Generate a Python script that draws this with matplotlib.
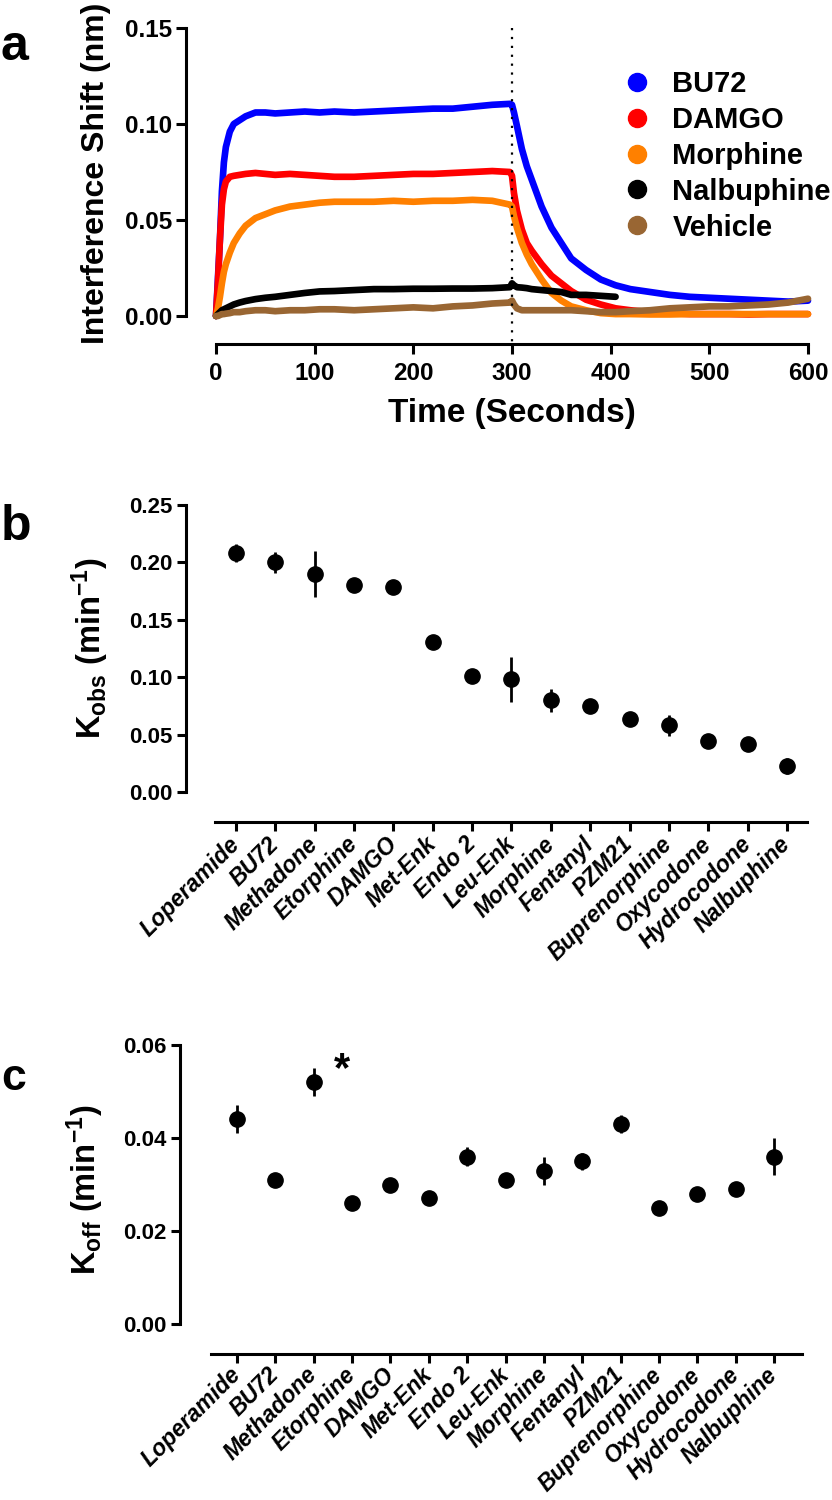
import matplotlib
matplotlib.use('Agg')
import matplotlib.pyplot as plt
from matplotlib.lines import Line2D

plt.rcParams['font.family'] = ['Liberation Sans', 'DejaVu Sans']
plt.rcParams['font.weight'] = 'bold'
plt.rcParams['mathtext.fontset'] = 'custom'
plt.rcParams['mathtext.rm'] = 'Liberation Sans:bold'
plt.rcParams['mathtext.bf'] = 'Liberation Sans:bold'
plt.rcParams['mathtext.it'] = 'Liberation Sans:bold:italic'
plt.rcParams['axes.linewidth'] = 2.2

# ---------------- data: panel a ----------------
time_s = [0, 2, 4, 6, 8, 10, 14, 18, 24, 30, 40, 50, 60, 75, 90, 105, 120, 140,
          160, 180, 200, 220, 240, 260, 280, 298, 300, 302, 305, 310, 315, 320,
          330, 340, 350, 360, 375, 390, 405, 420, 440, 460, 480, 500, 520, 540,
          560, 580, 600]

bu72 = [0.0, 0.020, 0.040, 0.065, 0.080, 0.088, 0.096, 0.100, 0.102, 0.104,
        0.106, 0.106, 0.1055, 0.106, 0.1065, 0.106, 0.1065, 0.106, 0.1065,
        0.107, 0.1075, 0.108, 0.108, 0.109, 0.110, 0.1105, 0.110, 0.106,
        0.099, 0.087, 0.078, 0.071, 0.057, 0.046, 0.038, 0.030, 0.024, 0.019,
        0.016, 0.014, 0.0125, 0.011, 0.010, 0.0095, 0.009, 0.0085, 0.008,
        0.0075, 0.008]
damgo = [0.0, 0.018, 0.040, 0.058, 0.066, 0.070, 0.0725, 0.073, 0.0735, 0.074,
         0.0745, 0.074, 0.0735, 0.074, 0.0735, 0.073, 0.0725, 0.0725, 0.073,
         0.0735, 0.074, 0.074, 0.0745, 0.075, 0.0755, 0.075, 0.073, 0.064,
         0.055, 0.045, 0.038, 0.034, 0.027, 0.021, 0.017, 0.013, 0.0085,
         0.006, 0.004, 0.003, 0.002, 0.0015, 0.001, 0.001, 0.001, 0.0008,
         0.001, 0.001, 0.001]
morphine = [0.0, 0.004, 0.010, 0.017, 0.023, 0.027, 0.033, 0.038, 0.043, 0.047,
            0.051, 0.053, 0.055, 0.057, 0.058, 0.059, 0.0595, 0.0595, 0.0595,
            0.060, 0.0595, 0.060, 0.060, 0.0605, 0.060, 0.058, 0.057, 0.052,
            0.046, 0.038, 0.032, 0.027, 0.019, 0.012, 0.008, 0.005, 0.003,
            0.0015, 0.001, 0.001, 0.0008, 0.0008, 0.001, 0.001, 0.001, 0.001,
            0.001, 0.001, 0.001]
nalbuphine = [0.0, 0.001, 0.002, 0.003, 0.0035, 0.004, 0.005, 0.006, 0.007,
              0.0078, 0.0088, 0.0095, 0.010, 0.011, 0.012, 0.0128, 0.013,
              0.0135, 0.014, 0.014, 0.0142, 0.0142, 0.0143, 0.0143, 0.0145,
              0.015, 0.017, 0.016, 0.015, 0.0148, 0.0145, 0.014, 0.0135, 0.013,
              0.0125, 0.011, 0.011, 0.0105, 0.010]
vehicle = [0.0, 0.0, 0.0005, 0.001, 0.001, 0.0012, 0.0015, 0.002, 0.002, 0.0025,
           0.003, 0.003, 0.0025, 0.003, 0.003, 0.0035, 0.0035, 0.003, 0.0035,
           0.004, 0.0045, 0.004, 0.005, 0.0055, 0.0065, 0.007, 0.008, 0.006,
           0.004, 0.003, 0.003, 0.003, 0.003, 0.003, 0.003, 0.003, 0.0025,
           0.002, 0.002, 0.0025, 0.003, 0.004, 0.0045, 0.005, 0.005, 0.0055,
           0.006, 0.007, 0.009]

series_names = ['BU72', 'DAMGO', 'Morphine', 'Nalbuphine', 'Vehicle']
series_vals = [bu72, damgo, morphine, nalbuphine, vehicle]
series_colors = ['#0000FF', '#FF0000', '#FF8000', '#000000', '#996633']

a_yticks = [0.00, 0.05, 0.10, 0.15]
a_xticks = [0, 100, 200, 300, 400, 500, 600]
washout_time = 300

# ---------------- data: panels b, c ----------------
compounds = ['Loperamide', 'BU72', 'Methadone', 'Etorphine', 'DAMGO', 'Met-Enk',
             'Endo 2', 'Leu-Enk', 'Morphine', 'Fentanyl', 'PZM21',
             'Buprenorphine', 'Oxycodone', 'Hydrocodone', 'Nalbuphine']
kobs = [0.208, 0.200, 0.190, 0.180, 0.179, 0.131, 0.101, 0.098, 0.080, 0.075,
        0.064, 0.058, 0.044, 0.042, 0.023]
kobs_err = [0.008, 0.009, 0.020, 0.002, 0.005, 0.002, 0.002, 0.020, 0.010,
            0.002, 0.002, 0.009, 0.002, 0.002, 0.007]
koff = [0.044, 0.031, 0.052, 0.026, 0.030, 0.027, 0.036, 0.031, 0.033, 0.035,
        0.043, 0.025, 0.028, 0.029, 0.036]
koff_err = [0.003, 0.001, 0.003, 0.001, 0.001, 0.001, 0.002, 0.001, 0.003,
            0.0018, 0.002, 0.001, 0.001, 0.001, 0.004]
b_yticks = [0.00, 0.05, 0.10, 0.15, 0.20, 0.25]
c_yticks = [0.00, 0.02, 0.04, 0.06]

# ---------------- figure ----------------
W, H = 832, 1500
fig = plt.figure(figsize=(W / 100, H / 100), dpi=100)


def add_axes(l, r, t, b):
    return fig.add_axes([l / W, 1 - b / H, (r - l) / W, (b - t) / H])


def px2pt(p):
    return p * 72.0 / 100.0


def style(ax, left_out, bottom_out, ybounds, xbounds=None):
    ax.spines['top'].set_visible(False)
    ax.spines['right'].set_visible(False)
    ax.spines['left'].set_position(('outward', px2pt(left_out)))
    ax.spines['bottom'].set_position(('outward', px2pt(bottom_out)))
    ax.spines['left'].set_bounds(*ybounds)
    if xbounds is not None:
        ax.spines['bottom'].set_bounds(*xbounds)
    ax.patch.set_alpha(0)


# ---- panel a ----
axa = add_axes(216, 808, 28, 316)
for name, vals, col in zip(series_names, series_vals, series_colors):
    axa.plot(time_s[:len(vals)], vals, color=col, lw=4.8, clip_on=False,
             solid_capstyle='round', solid_joinstyle='round')
axa.plot([washout_time, washout_time], [0.15, -0.0152], color='black', lw=1.6,
         ls=(0, (1, 3)), clip_on=False)
axa.set_xlim(0, 600)
axa.set_ylim(0, 0.15)
style(axa, 30, 28, (0, 0.15), (0, 600))
axa.set_yticks(a_yticks)
axa.set_yticklabels(['%.2f' % v for v in a_yticks])
axa.set_xticks(a_xticks)
axa.tick_params(axis='both', width=2.2, length=7, labelsize=17.5)
axa.tick_params(axis='y', pad=3)
axa.tick_params(axis='x', pad=6)
axa.set_xlabel('Time (Seconds)', fontsize=24, fontweight='bold', labelpad=9)
fig.text(96 / W, 1 - 173 / H, 'Interference Shift (nm)', rotation=90,
         ha='center', va='center', fontsize=23, fontweight='bold')

handles = [Line2D([], [], marker='o', ls='', color=c, markersize=13)
           for c in series_colors]
axa.legend(handles, series_names, loc='upper left',
           bbox_to_anchor=(622 / W, 1 - 70 / H),
           bbox_transform=fig.transFigure, frameon=False, fontsize=21,
           handlelength=1.0, handletextpad=0.73, labelspacing=0.27,
           borderpad=0, borderaxespad=0)

xs = list(range(len(compounds)))

# ---- panel b ----
axb = add_axes(215, 807, 505, 792)
axb.errorbar(xs, kobs, yerr=kobs_err, fmt='o', color='black', ms=11,
             elinewidth=2.0, capsize=0, clip_on=False)
axb.set_xlim(-0.534, 14.51)
axb.set_ylim(0, 0.25)
style(axb, 29, 30, (0, 0.25))
axb.set_yticks(b_yticks)
axb.set_yticklabels(['%.2f' % v for v in b_yticks])
axb.set_xticks(xs)
axb.set_xticklabels(compounds, rotation=45, ha='right', va='center',
                    rotation_mode='anchor', fontstyle='italic', fontsize=16.5)
axb.tick_params(axis='y', width=2.2, length=6.5, labelsize=16, pad=3)
axb.tick_params(axis='x', width=2.2, length=6.5, pad=7)
fig.text(90 / W, 1 - 648 / H, r'K$_{\mathbf{obs}}$ (min$^{\mathbf{-1}}$)',
         rotation=90, ha='center', va='center', fontsize=23.5,
         fontweight='bold')

# ---- panel c ----
axc = add_axes(211, 802, 1045, 1324)
axc.errorbar(xs, koff, yerr=koff_err, fmt='o', color='black', ms=11,
             elinewidth=2.0, capsize=0, clip_on=False)
axc.set_xlim(-0.678, 14.73)
axc.set_ylim(0, 0.06)
style(axc, 31, 30, (0, 0.06))
axc.set_yticks(c_yticks)
axc.set_yticklabels(['%.2f' % v for v in c_yticks])
axc.set_xticks(xs)
axc.set_xticklabels(compounds, rotation=45, ha='right', va='center',
                    rotation_mode='anchor', fontstyle='italic', fontsize=16.5)
axc.tick_params(axis='y', width=2.2, length=6.5, labelsize=16, pad=3)
axc.tick_params(axis='x', width=2.2, length=6.5, pad=6)
axc.text(2.74, 0.0545, '*', fontsize=30, fontweight='bold', ha='center',
         va='center')
fig.text(85 / W, 1 - 1190 / H, r'K$_{\mathbf{off}}$ (min$^{\mathbf{-1}}$)',
         rotation=90, ha='center', va='center', fontsize=23.5,
         fontweight='bold')

# ---- panel letters ----
fig.text(1 / W, 1 - 60 / H, 'a', fontsize=36, fontweight='bold', va='baseline')
fig.text(1 / W, 1 - 540 / H, 'b', fontsize=36, fontweight='bold', va='baseline')
fig.text(1 / W, 1 - 1090 / H, 'c', fontsize=32, fontweight='bold', va='baseline')

fig.savefig('out.png', dpi=100)
